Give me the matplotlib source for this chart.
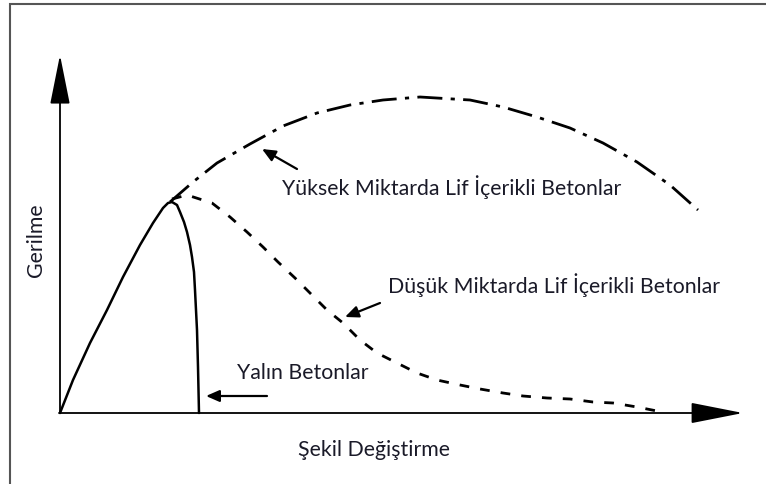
import numpy as np
import matplotlib
matplotlib.use("Agg")
import matplotlib.pyplot as plt
from matplotlib.patches import Rectangle

plt.rcParams['font.family'] = ['Lato', 'DejaVu Sans']

# sketch values: strain (x) and stress (y), arbitrary units
plain_strain = [0, 0.13, 0.30, 0.47, 0.63, 0.80, 0.93, 1.03, 1.08, 1.12, 1.17, 1.20,
                1.24, 1.27, 1.30, 1.32, 1.34, 1.35, 1.36, 1.37, 1.38, 1.39]
plain_stress = [0, 0.33, 0.70, 1.03, 1.36, 1.68, 1.90, 2.05, 2.10, 2.11, 2.08, 2.01,
                1.91, 1.81, 1.68, 1.56, 1.41, 1.23, 1.03, 0.83, 0.46, 0]

high_strain = [1.10, 1.33, 1.57, 1.90, 2.23, 2.57, 2.90, 3.23, 3.60, 3.93, 4.10, 4.43,
               4.77, 5.10, 5.43, 5.77, 6.10, 6.38]
high_stress = [2.11, 2.31, 2.50, 2.69, 2.87, 3.00, 3.08, 3.13, 3.16, 3.14, 3.13, 3.06,
               2.96, 2.85, 2.70, 2.51, 2.28, 2.03]

low_strain = [1.12, 1.27, 1.52, 1.70, 1.87, 2.03, 2.18, 2.35, 2.50, 2.67, 2.83, 3.00, 3.17,
              3.37, 3.57, 3.77, 4.00, 4.20, 4.43, 4.63, 4.87, 5.10, 5.33, 5.53, 5.77, 5.97]
low_stress = [2.14, 2.18, 2.10, 1.96, 1.81, 1.66, 1.51, 1.35, 1.20, 1.03, 0.90, 0.73, 0.60,
              0.50, 0.40, 0.33, 0.28, 0.24, 0.20, 0.17, 0.15, 0.14, 0.11, 0.10, 0.06, 0.02]

label_high = "Yüksek Miktarda Lif İçerikli Betonlar"
label_low = "Düşük Miktarda Lif İçerikli Betonlar"
label_plain = "Yalın Betonlar"
xlabel = "Şekil Değiştirme"
ylabel = "Gerilme"

txt_color = "#1a1a28"

fig = plt.figure(figsize=(7.66, 4.84), dpi=100)
ax = fig.add_axes([0, 0, 1, 1])
ax.set_xlim(-0.60, 7.06)
ax.set_ylim(-0.71, 4.13)
ax.axis("off")

# frame round the sketch (only left and top edges fall inside the picture)
ax.add_patch(Rectangle((0.013, -0.1), 1.2, 1.092, transform=ax.transAxes,
                       fill=False, edgecolor="#555555", lw=1.5, clip_on=False))

# axes with big arrow heads
ax.annotate("", xy=(0, 3.58), xytext=(0, 0),
            arrowprops=dict(arrowstyle="-|>,head_length=3.1,head_width=0.62",
                            color="black", lw=1.3, shrinkA=0, shrinkB=0))
ax.annotate("", xy=(6.83, 0), xytext=(-0.01, 0),
            arrowprops=dict(arrowstyle="-|>,head_length=3.3,head_width=0.65",
                            color="black", lw=1.3, shrinkA=0, shrinkB=0))

# curves
ax.plot(plain_strain, plain_stress, color="black", lw=1.8, solid_capstyle="round")
ax.plot(high_strain, high_stress, color="black", lw=2.0, dashes=(9, 3, 1.5, 3))
ax.plot(low_strain, low_stress, color="black", lw=2.0, dashes=(3.5, 4))

# pointers and labels
small = dict(arrowstyle="-|>,head_length=0.8,head_width=0.35", color="black",
             lw=1.6, shrinkA=0, shrinkB=0)
ax.annotate("", xy=(2.02, 2.64), xytext=(2.37, 2.44), arrowprops=small)
ax.annotate("", xy=(2.85, 0.96), xytext=(3.20, 1.10), arrowprops=small)
ax.annotate("", xy=(1.46, 0.17), xytext=(2.07, 0.17), arrowprops=small)

fs = 15.3
ax.text(2.22, 2.26, label_high, fontsize=fs, color=txt_color, va="center", ha="left")
ax.text(3.28, 1.28, label_low, fontsize=fs, color=txt_color, va="center", ha="left")
ax.text(1.77, 0.40, label_plain, fontsize=fs, color=txt_color, va="center", ha="left")
ax.text(3.14, -0.37, xlabel, fontsize=fs, color=txt_color, va="center", ha="center")
ax.text(-0.24, 1.73, ylabel, fontsize=fs, color=txt_color, va="center", ha="center",
        rotation=90)

fig.savefig("out.png", dpi=100)
